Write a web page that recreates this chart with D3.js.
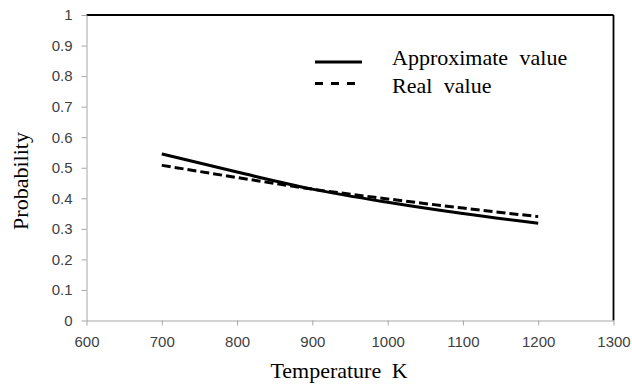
<!DOCTYPE html>
<html>
<head>
<meta charset="utf-8">
<script src="https://cdn.jsdelivr.net/npm/d3@7"></script>
<style>
  body { margin: 0; background: #fff; }
</style>
</head>
<body>
<div id="chart"></div>
<script>
// temperatures (K) and probabilities
const temps = [700, 800, 900, 1000, 1100, 1200];
const approxValues = [0.545, 0.486, 0.430, 0.387, 0.350, 0.318];
const realValues = [0.508, 0.468, 0.430, 0.398, 0.368, 0.340];
const xTicks = [600, 700, 800, 900, 1000, 1100, 1200, 1300];
const yTicks = [0, 0.1, 0.2, 0.3, 0.4, 0.5, 0.6, 0.7, 0.8, 0.9, 1];
const legendLabels = ["Approximate value", "Real value"];

const svg = d3.select("#chart").append("svg");
svg.attr("width", 632).attr("height", 387);

const x = d3.scaleLinear().domain([600, 1300]).range([86.5, 613.5]);
const y = d3.scaleLinear().domain([0, 1]).range([320.5, 15]);

const xAxis = d3.axisBottom(x).tickValues(xTicks).tickSize(5).tickSizeOuter(0).tickFormat(d3.format("d"));
const yAxis = d3.axisLeft(y).tickValues(yTicks).tickSize(5).tickSizeOuter(0).tickFormat(d => d === 0 || d === 1 ? d : d3.format(".1f")(d));

// top and right borders in black
svg.append("line")
    .attr("x1", x(600)).attr("x2", x(1300))
    .attr("y1", y(1)).attr("y2", y(1))
    .attr("stroke", "#000").attr("stroke-width", 1.8);
svg.append("line")
    .attr("x1", x(1300)).attr("x2", x(1300))
    .attr("y1", y(1)).attr("y2", y(0))
    .attr("stroke", "#000").attr("stroke-width", 1.8);

svg.append("g")
    .attr("transform", `translate(0, ${y(0)})`)
    .call(xAxis)
    .call(g => {
        g.select(".domain").attr("stroke", "#a6a6a6");
        g.selectAll(".tick line").attr("stroke", "#a6a6a6");
        g.selectAll("text")
            .attr("y", 16)
            .attr("dy", "0.71em")
            .style("font-family", "'Liberation Sans', Arial, sans-serif")
            .style("font-size", "15px")
            .attr("fill", "#404040");
    });

svg.append("g")
    .attr("transform", `translate(${x(600)}, 0)`)
    .call(yAxis)
    .call(g => {
        g.select(".domain").attr("stroke", "#a6a6a6");
        g.selectAll(".tick line").attr("stroke", "#a6a6a6");
        g.selectAll("text")
            .attr("x", -14)
            .style("font-family", "'Liberation Sans', Arial, sans-serif")
            .style("font-size", "15px")
            .attr("fill", "#404040");
    });

const line = (vals) => d3.line()
    .x((d, i) => x(temps[i]))
    .y(d => y(d))
    .curve(d3.curveMonotoneX)(vals);

svg.append("path")
    .attr("d", line(realValues))
    .attr("fill", "none")
    .attr("stroke", "#000")
    .attr("stroke-width", 3)
    .attr("stroke-dasharray", "9,4");

svg.append("path")
    .attr("d", line(approxValues))
    .attr("fill", "none")
    .attr("stroke", "#000")
    .attr("stroke-width", 3);

// legend
const legend = svg.append("g");
legendLabels.forEach((label, i) => {
    const ly = 62 + i * 21.5;
    legend.append("line")
        .attr("x1", 315).attr("x2", 362)
        .attr("y1", ly).attr("y2", ly)
        .attr("stroke", "#000")
        .attr("stroke-width", 3)
        .attr("stroke-dasharray", i === 1 ? "8,8" : null);
    legend.append("text")
        .attr("x", 392)
        .attr("y", 64.5 + i * 28)
        .text(label)
        .style("font-family", "'Liberation Serif', 'Times New Roman', serif")
        .style("font-size", "22px")
        .style("word-spacing", "6px")
        .attr("fill", "#000");
});

svg.append("text")
    .attr("x", 339)
    .attr("y", 378)
    .attr("text-anchor", "middle")
    .text("Temperature K")
    .style("font-family", "'Liberation Serif', 'Times New Roman', serif")
    .style("font-size", "22px")
    .style("word-spacing", "5px");

svg.append("text")
    .attr("transform", "translate(28, 181) rotate(-90)")
    .attr("text-anchor", "middle")
    .text("Probability")
    .style("font-family", "'Liberation Serif', 'Times New Roman', serif")
    .style("font-size", "22px");
</script>
</body>
</html>
